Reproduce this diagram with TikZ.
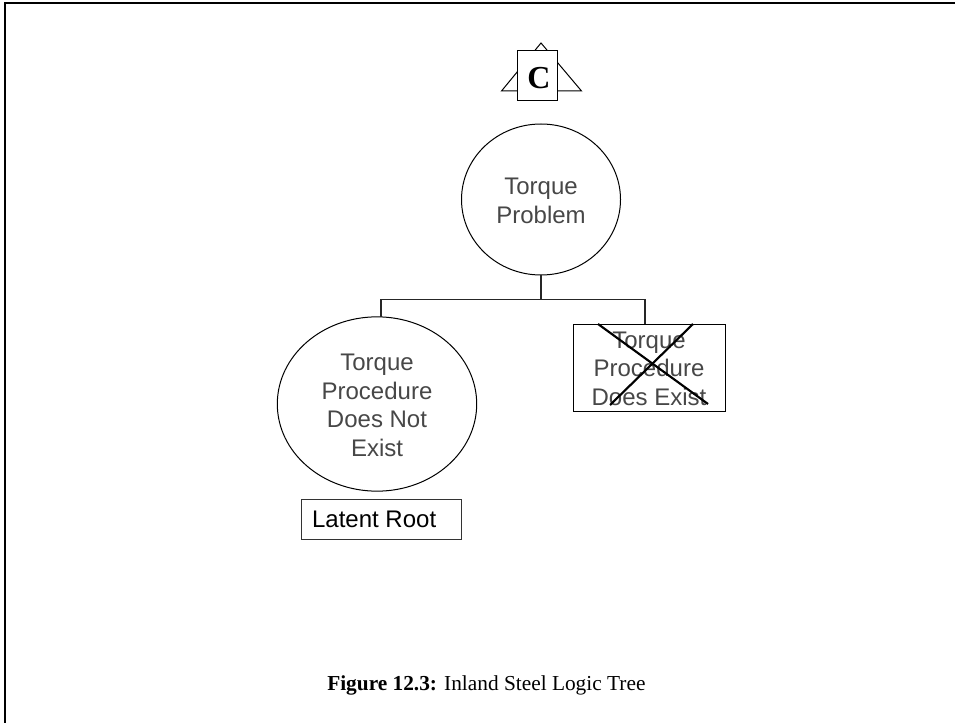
\documentclass[tikz,border=0pt]{standalone}
\usetikzlibrary{shapes.geometric}
\usepackage{fontspec}
\setmainfont{Liberation Serif}
\setsansfont{Liberation Sans}
\newcommand{\downstrut}{\rule{0pt}{14.4pt}}
\tikzset{
  x=0.75pt,y=-0.75pt,
  frameline/.style={line width=1.5pt,line cap=butt},
  shapeline/.style={draw=black,line width=0.75pt},
  lab/.style={align=center,font=\sffamily\fontsize{18}{21.5}\selectfont,text=black!72},
  boxn/.style={shapeline,rectangle,inner sep=0pt,fill=white},
  link/.style={draw=black!85,line width=0.8pt},
  cross/.style={draw=black,line width=1.6pt}
}
\begin{document}
\begin{tikzpicture}
\useasboundingbox (0,0) rectangle (955,723);
\coordinate (fa) at (5,723);
\coordinate (fb) at (5,3);
\coordinate (fc) at (955,3);
\draw[frameline] (fa) -- (fb) -- (fc);
% transfer symbol
\coordinate (tl) at (501.5,91);
\coordinate (tr) at (581.5,91);
\coordinate (tt) at (541,43);
\draw[shapeline] (tl) -- (tt) -- (tr) -- cycle;
\node[boxn,minimum width=40*0.75pt,minimum height=50*0.75pt,font=\fontsize{24}{26}\selectfont\bfseries] (c) at (537,76) {\kern3pt\raisebox{-1.5pt}[\height][0pt]{C}};
% shapes
\node[shapeline,ellipse,minimum width=159*0.75pt,minimum height=151*0.75pt,inner sep=0pt,lab] (top) at (541,199.5) {\downstrut Torque\\Problem};
\node[shapeline,ellipse,minimum width=199.4*0.75pt,minimum height=174.3*0.75pt,inner sep=0pt,lab] (left) at (377,404) {\downstrut Torque\\Procedure\\Does Not\\Exist};
\node[shapeline,rectangle,minimum width=152*0.75pt,minimum height=87*0.75pt,inner sep=0pt,lab] (right) at (649,367.5) {\downstrut Torque\\Procedure\\Does Exist};
\coordinate (j) at (541,299.3);
\coordinate (la) at (381,316.9);
\coordinate (ra) at (645,324);
\draw[link] (top.south) -- (j);
\draw[link] (la) |- (j);
\draw[link] (ra) |- (j);
% cross
\coordinate (xa) at (598,324);
\coordinate (xb) at (708,404);
\coordinate (xc) at (693,324);
\coordinate (xd) at (610,405);
\draw[cross] (xa) -- (xb);
\draw[cross] (xc) -- (xd);
% latent
\node[shapeline,draw=black!80,rectangle,minimum width=160*0.75pt,minimum height=40*0.75pt,inner sep=0pt,font=\sffamily\fontsize{18}{20}\selectfont] (lat) at (381.5,519) {\hspace{-11pt}Latent Root};
\node[anchor=west,inner sep=0pt,font=\fontsize{16}{18}\selectfont] (cap) at (327,685) {\textbf{Figure 12.3:} Inland Steel Logic Tree};
\end{tikzpicture}
\end{document}
